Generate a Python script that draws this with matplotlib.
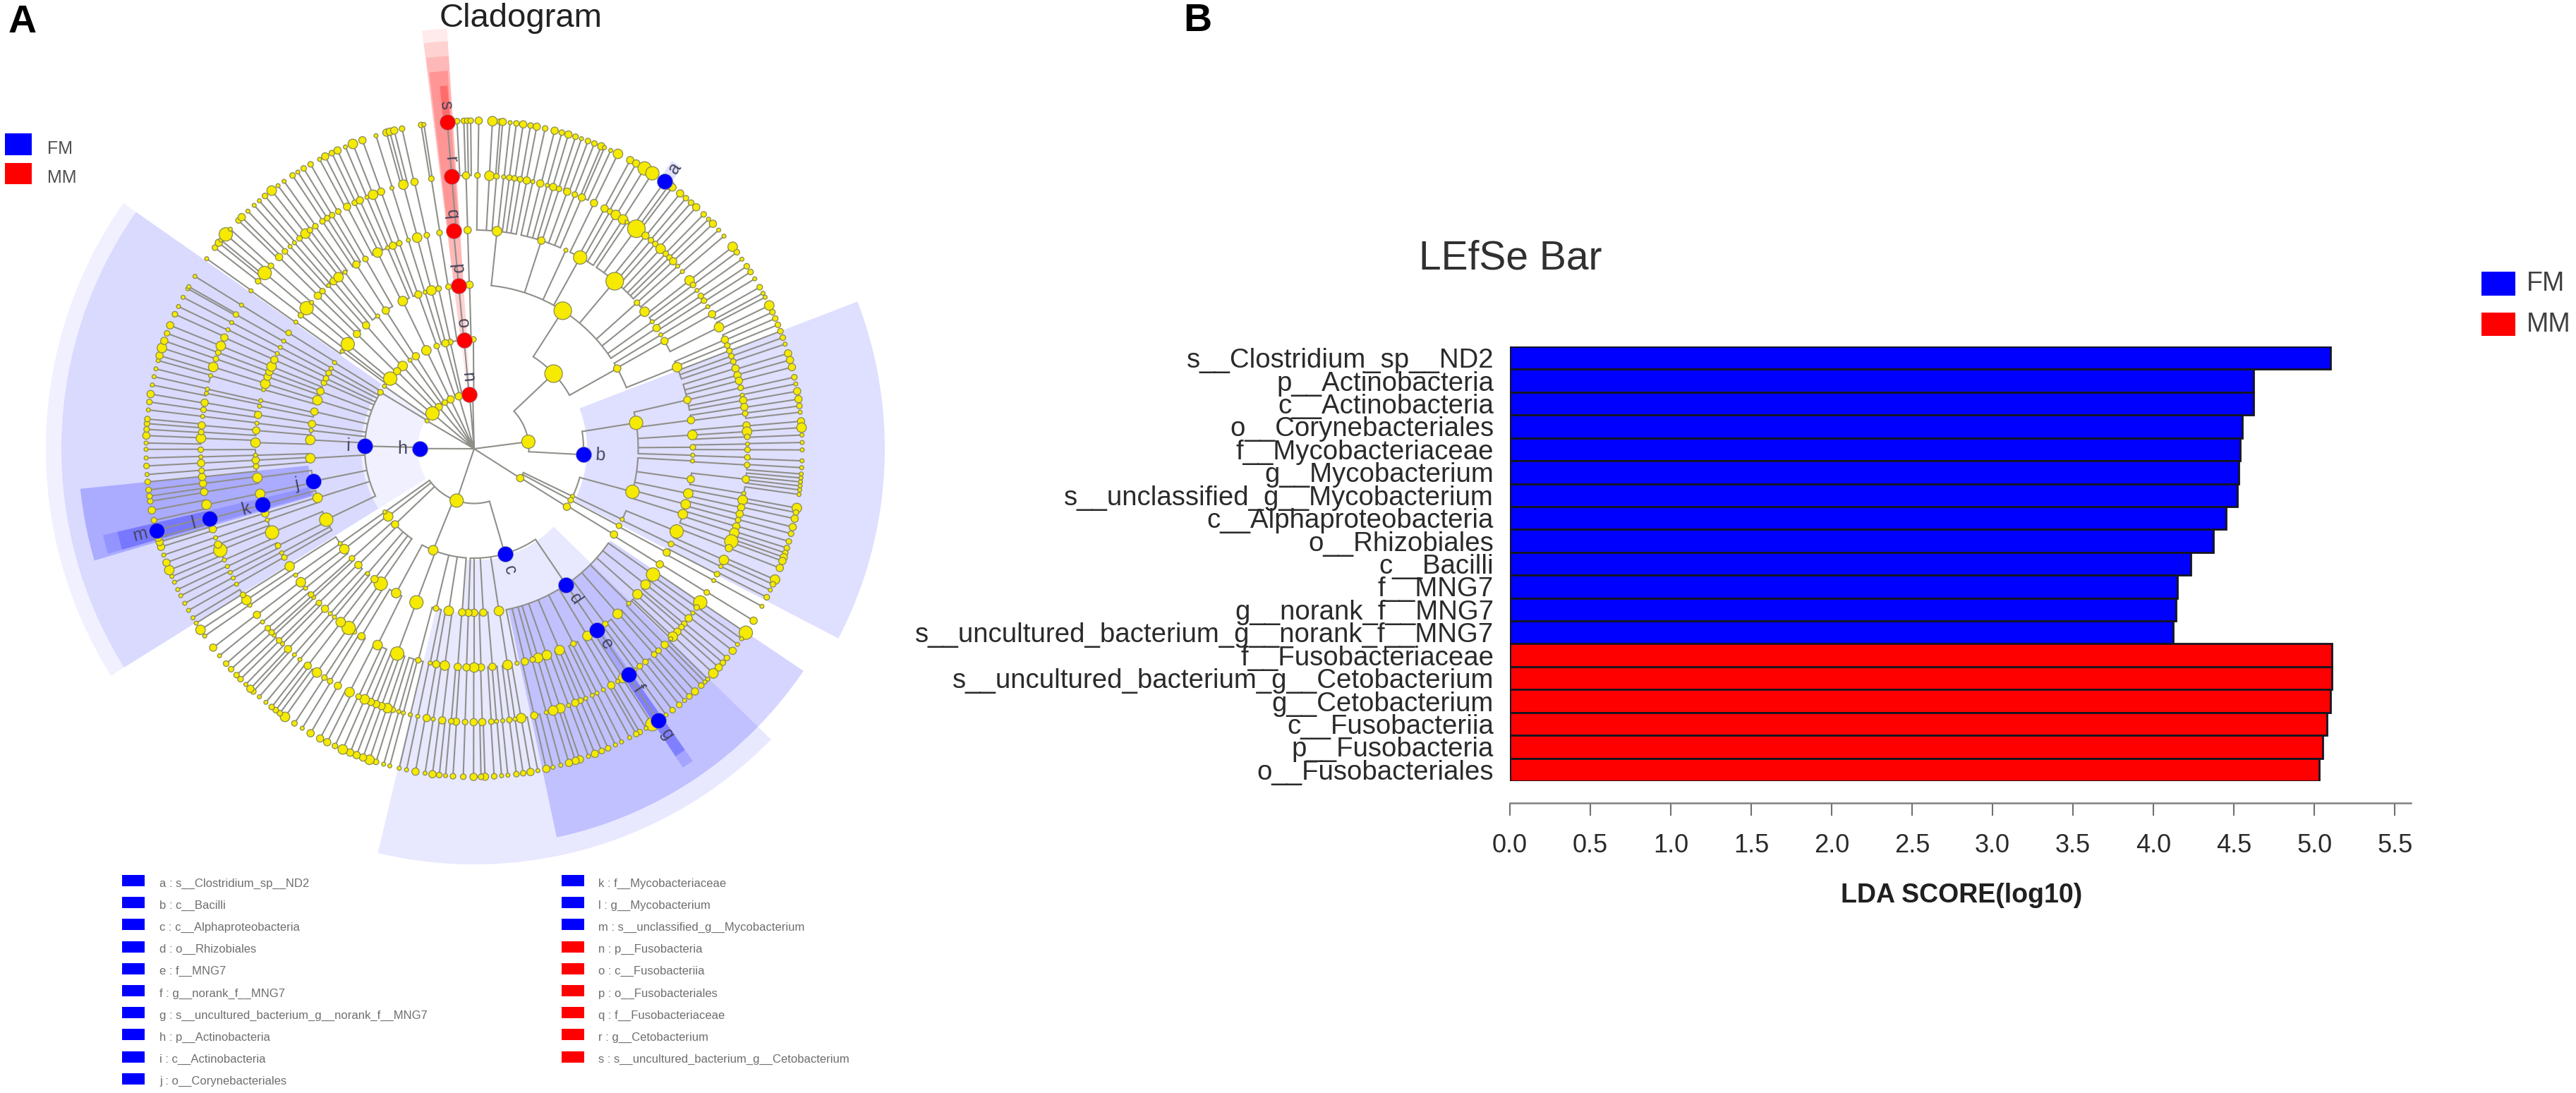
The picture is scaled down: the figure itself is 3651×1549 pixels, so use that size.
import numpy as np
import matplotlib
matplotlib.use("Agg")
import matplotlib.pyplot as plt
from matplotlib.patches import Rectangle

plt.rcParams['font.family'] = ['Liberation Sans', 'DejaVu Sans']

# ---------- LEfSe bar data ----------
BAR_LABELS_FM = ["s__Clostridium_sp__ND2", "p__Actinobacteria", "c__Actinobacteria",
                 "o__Corynebacteriales", "f__Mycobacteriaceae", "g__Mycobacterium",
                 "s__unclassified_g__Mycobacterium", "c__Alphaproteobacteria", "o__Rhizobiales",
                 "c__Bacilli", "f__MNG7", "g__norank_f__MNG7",
                 "s__uncultured_bacterium_g__norank_f__MNG7"]
BAR_VALUES_FM = [5.10, 4.62, 4.62, 4.55, 4.54, 4.53, 4.52, 4.45, 4.37, 4.23, 4.15, 4.14, 4.12]
BAR_LABELS_MM = ["f__Fusobacteriaceae", "s__uncultured_bacterium_g__Cetobacterium",
                 "g__Cetobacterium", "c__Fusobacteriia", "p__Fusobacteria", "o__Fusobacteriales"]
BAR_VALUES_MM = [5.11, 5.11, 5.10, 5.08, 5.05, 5.03]
X_TICKS = [0.0, 0.5, 1.0, 1.5, 2.0, 2.5, 3.0, 3.5, 4.0, 4.5, 5.0, 5.5]

# ---------- Cladogram legend ----------
CLADE_LEGEND_FM = ["a : s__Clostridium_sp__ND2", "b : c__Bacilli", "c : c__Alphaproteobacteria",
                   "d : o__Rhizobiales", "e : f__MNG7", "f : g__norank_f__MNG7",
                   "g : s__uncultured_bacterium_g__norank_f__MNG7", "h : p__Actinobacteria",
                   "i : c__Actinobacteria", "j : o__Corynebacteriales", "k : f__Mycobacteriaceae",
                   "l : g__Mycobacterium", "m : s__unclassified_g__Mycobacterium"]
CLADE_LEGEND_MM = ["n : p__Fusobacteria", "o : c__Fusobacteriia", "p : o__Fusobacteriales",
                   "q : f__Fusobacteriaceae", "r : g__Cetobacterium",
                   "s : s__uncultured_bacterium_g__Cetobacterium"]

# ---------- Cladogram nodes: (angle in degrees, size class), one list per taxonomic ring ----------
RING1 = [(91.5,1),(106.3,3),(115.5,3),(122.4,2),(130.3,3),(139.7,5),(149.4,1),(7.4,5),(-32.5,3),(-108.7,5)]
RING2 = [(90.4,2),(102.6,2),(105.2,3),(110,2),(115.9,4),(122.2,3),(125.9,1),(130.8,4),(134.8,3),(140.1,5),
         (145.1,1),(148.9,2),(43.4,6),(-25.8,1),(-28,2),(-32,3),(-112,4),(-136.3,3),(-141.8,4),(-144.7,1)]
RING3 = [(91.6,3),(57.3,6),(29.3,3),(9.1,5),(-15.2,5),(-25.5,1),(-28,2),(-31.5,3),(-81.3,4),(-86.8,3),(-90,3),
         (-92,3),(-94.2,3),(-98.9,4),(-103.4,2),(-110.6,5),(-118.4,4),(-124.7,5),(-127.4,3),(-130.5,1),(-134.9,3),
         (-138.1,2),(-142.3,4),(-144.7,1),(-154.4,5),(-162.6,4),(-176.7,4),(176.9,4),(173.6,1),(171.3,3),(166.9,3),
         (162.8,4),(159.5,3),(156.3,2),(154.6,2),(152.5,2),(150.7,1),(148.3,1),(143.5,1),(142.3,1),(140.4,5),
         (135.6,3),(131.2,3),(126,1),(122.6,3),(115.8,4),(109.9,3),(107.4,1),(105.1,4),(102.5,2),(99,2)]
RING4 = [(91.7,3),(84,4),(72.1,3),(65.2,1),(61,5),(50,6),(41.9,2),(38.8,4),(35.5,1),(33.5,3),(31.4,1),(29.5,3),
         (21.9,4),(12.9,3),(7.5,3),(3.6,4),(0.4,2),(-1.7,1),(-3.2,1),(-8,3),(-11.8,4),(-14.7,4),(-17.4,4),(-22.2,5),
         (-25.8,2),(-28.3,3),(-31.9,3),(-35.1,5),(-38.4,4),(-41.7,4),(-45,1),(-49,4),(-53.2,2),(-58.8,4),(-63,2),
         (-67,4),(-70.6,4),(-73,4),(-74.5,2),(-76.6,3),(-78.7,1),(-81.2,4),(-85.2,3),(-88.2,3),(-90,4),(-92,3),
         (-94.3,3),(-97.7,4),(-100,3),(-101.6,1),(-104.8,2),(-110.6,5),(-116.2,4),(-121,3),(-123.1,1),(-125,5),
         (-127.6,4),(-129.7,1),(-131.1,1),(-133,3),(-135.2,2),(-137.2,1),(-138.2,2),(-140.4,1),(-142.4,4),(-144.7,1),
         (-147.5,4),(-150.2,2),(-151.6,1),(-153.7,2),(-157.5,5),(-161,1),(-162.8,3),(-168.1,4),(-172.4,4),(-175.4,2),
         (-177,3),(-178.3,1),(178.4,4),(175.2,3),(173.3,1),(171.1,3),(168.8,1),(167.3,1),(164.3,1),(162.7,4),(160.8,3),
         (159.4,3),(157.9,4),(156,3),(154.2,1),(152.4,1),(150.5,1),(148,2),(144.6,1),(142.4,2),(140,5),(138,1),
         (135.6,3),(133.9,2),(131.7,1),(130,3),(128.3,4),(126.2,1),(122.6,3),(119.8,2),(116.2,4),(113.3,1),(111.8,3),
         (110,2),(107.5,1),(105.1,4),(102.5,2),(99.1,2)]
RING5 = [(91.7,3),(89.3,2),(86.8,4),(85.3,2),(83.8,1),(82.6,2),(81.5,2),(80.3,2),(78.9,3),(77.6,1),(76,3),(74.5,1),
         (73.2,3),(71.9,2),(70.1,3),(68.4,2),(66.8,3),(64,3),(61.5,3),(60.2,2),(58.8,4),(57,4),(56,1),(53.6,6),(51.2,3),
         (49.7,2),(48.5,2),(47,4),(45.5,2),(44.4,2),(43.3,3),(41.9,1),(40.4,1),(38,4),(36.8,2),(35.4,1),(34,2),(32.8,2),
         (31.3,1),(29.5,3),(26.4,4),(23.5,3),(22.2,2),(21,2),(19.8,2),(18.6,2),(17.1,3),(15.6,3),(14.4,3),(12.9,2),
         (11.3,1),(10.2,3),(8.8,3),(7.4,2),(4.9,3),(3.6,4),(2.5,2),(1,1),(-0.2,2),(-1.8,2),(-3.4,2),(-6.4,3),(-9.4,1),
         (-10.8,4),(-12.4,3),(-13.8,3),(-15.1,2),(-16.5,3),(-17.9,4),(-19.8,5),(-21.3,3),(-24,4),(-25.5,1),(-27.3,2),
         (-28.8,1),(-31.7,2),(-34.2,5),(-35.5,2),(-36.9,1),(-38.3,3),(-39.8,2),(-40.7,2),(-42,3),(-43.4,4),(-44,1),
         (-45.8,3),(-47.6,2),(-48.8,2),(-51.2,2),(-52.7,2),(-54,1),(-57,4),(-58.3,1),(-59.9,3),(-61.8,1),(-63.3,1),
         (-64.4,1),(-65.9,1),(-67.1,2),(-68.3,3),(-69.8,1),(-71.6,4),(-73.2,4),(-74.7,1),(-77.3,3),(-80.1,4),(-81.4,1),
         (-82.6,2),(-84,1),(-85.3,1),(-86.4,2),(-88.3,3),(-90.1,3),(-91.9,2),(-93.8,3),(-94.8,2),(-96.7,3),(-98.6,1),
         (-100,3),(-101.9,1),(-103.5,1),(-105,1),(-106,1),(-107.3,2),(-108.5,4),(-109.8,3),(-111,3),(-112.2,3),(-113.6,4),
         (-115,2),(-117.1,4),(-119.9,3),(-121.8,2),(-123.2,2),(-125.1,4),(-127.5,3),(-129.6,1),(-131.1,1),(-132.9,3),
         (-134.5,1),(-135.5,2),(-137,1),(-137.8,2),(-139,2),(-140.7,1),(-142.6,3),(-145.1,1),(-146.4,4),(-147.7,2),
         (-150.3,1),(-151.8,1),(-153.1,1),(-154.5,1),(-156,1),(-158.2,5),(-159.5,3),(-161,1),(-162.9,3),(-168.2,4),
         (-170.9,3),(-172.7,3),(-174.1,3),(-175.4,2),(-177,3),(-178.3,1),(-179.8,2),(177.8,4),(176.5,2),(175.1,3),
         (173.2,1),(171.8,2),(170.3,3),(168.3,1),(167.4,1),(164.5,1),(162.6,4),(160.8,2),(159.4,2),(157.9,4),(156,3),
         (154.2,1),(152.5,1),(150.6,2),(148.3,1),(144.7,1),(142.2,2),(140,5),(138,2),(135.5,3),(133.8,2),(132.3,1),
         (131.1,1),(129.7,2),(128.1,4),(126.9,2),(125.5,2),(123.7,2),(122.5,2),(121.3,2),(119.8,2),(117.7,3),(115.9,2),
         (114.7,3),(113.1,1),(111.7,4),(109.9,3),(107.5,1),(105,4),(102.6,3),(99,2)]
RING6 = [(93,2),(91.8,2),(91.2,2),(90.6,2),(89.2,3),(86.8,4),(85.5,2),(85,3),(83.7,1),(82.6,2),(81.4,3),(80.1,2),(79,3),
         (77.5,2),(75.8,3),(74.5,2),(73.3,3),(72,2),(70.9,1),(69.7,2),(68.5,2),(67.2,3),(66.6,1),(65.4,1),(64,4),(61.6,3),
         (60.4,3),(58.7,5),(57.1,5),(53.5,4),(52.8,3),(51.1,3),(49.8,2),(48.6,2),(47.4,3),(45.6,2),(44.4,1),(43.3,3),
         (41.8,1),(40.4,1),(38,4),(36.8,2),(35.3,1),(33.8,2),(32.6,2),(31.2,1),(29.5,2),(28.3,1),(27.5,1),(25.9,4),
         (24.6,2),(23.4,2),(22.2,2),(21,2),(19.8,2),(18.6,1),(16.9,3),(15.7,3),(14.4,3),(12.6,2),(11.4,1),(10.1,3),(8.7,3),
         (7.5,2),(6.4,1),(4.8,3),(3.7,4),(2.4,1),(1.1,1),(-0.2,1),(-2.1,1),(-3.3,1),(-4.4,1),(-5.1,1),(-5.8,1),(-6.5,1),
         (-7.2,1),(-8,1),(-10.4,4),(-11.2,2),(-12.3,3),(-13.8,3),(-15,2),(-16.4,2),(-17.6,2),(-18.5,2),(-19.3,3),(-20,3),
         (-21.3,3),(-23.5,4),(-24.4,2),(-25.5,1),(-26.9,2),(-28.7,1),(-31.6,3),(-34.1,5),(-35.4,1),(-36.6,1),(-38,3),
         (-39.6,2),(-40.7,2),(-41.8,3),(-43.2,4),(-44.6,1),(-45.3,1),(-46.2,2),(-47.7,3),(-49,2),(-50.1,1),(-51.3,2),
         (-52.8,2),(-54.2,1),(-57.1,5),(-58.4,1),(-59.7,2),(-60.4,2),(-61.7,1),(-63.3,1),(-64.5,1),(-65.9,2),(-67.1,2),
         (-68.4,3),(-69.6,1),(-71.2,3),(-72,3),(-73.2,3),(-74.7,1),(-76.1,1),(-77.3,3),(-78.8,1),(-80.1,3),(-81.4,2),
         (-82.6,2),(-84.1,1),(-85.2,1),(-86.5,2),(-88.1,3),(-88.8,2),(-90.1,3),(-91.9,2),(-93.7,2),(-95,1),(-96.1,2),
         (-97.3,3),(-98.6,1),(-100.3,3),(-101.9,1),(-103.2,1),(-104.9,1),(-106,1),(-107.4,2),(-108.6,4),(-109.8,3),(-111,3),
         (-112.2,3),(-113.6,4),(-115.1,2),(-116.6,3),(-118,3),(-119.9,3),(-121.6,1),(-123.2,2),(-125.2,4),(-126.3,2),
         (-127.2,2),(-128.1,2),(-129.4,1),(-130.9,1),(-132.3,2),(-133,3),(-134.1,1),(-135.4,2),(-136.4,2),(-137.8,2),
         (-139.1,2),(-140.9,1),(-142.7,3),(-145.2,1),(-146.5,4),(-147.9,1),(-149,1),(-150.5,1),(-151.9,1),(-153.4,1),
         (-154.6,1),(-156,1),(-157.1,1),(-158.3,4),(-159.7,3),(-161.1,1),(-162.6,3),(-163.5,3),(-164.3,3),(-167.4,2),
         (-169.2,3),(-170.8,2),(-171.7,2),(-172.8,2),(-174.2,2),(-175.5,1),(-177,2),(-178.4,1),(-179.9,1),(179,1),(177.7,3),
         (176.6,2),(175.6,2),(174.8,2),(173.2,1),(171.8,2),(170.4,3),(168.8,1),(167.3,1),(165.9,1),(164.4,1),(163.5,3),
         (162.1,4),(160.8,3),(159.4,2),(157.9,3),(155.8,2),(154.3,1),(152.5,1),(150.8,1),(150.4,1),(148.3,1),(144.6,1),
         (142.2,2),(141.1,3),(140.5,1),(139.2,5),(138,1),(135.9,2),(135.1,3),(133.6,1),(132.1,1),(130.9,1),(129.6,2),
         (128.1,4),(126.7,1),(125.4,1),(123.6,2),(122.5,1),(121.3,2),(119.9,2),(118.1,1),(117,3),(115.7,2),(114.6,3),
         (113.1,1),(111.7,4),(109.9,3),(107.4,1),(105.5,3),(104.9,3),(104.1,3),(102.7,2),(99.3,2),(98.8,1)]

# biomarker clades: letter -> (ring, angle)
BLUE_CLADES = {"a":(6,54.5),"b":(2,-3.1),"c":(2,-73.7),"d":(3,-55.9),"e":(4,-55.9),"f":(5,-55.6),"g":(6,-55.9),
               "h":(1,179.8),"i":(2,178.6),"j":(3,-168.6),"k":(4,-165.2),"l":(5,-165.2),"m":(6,-165.6)}
RED_CLADES = {"n":(1,94.9),"o":(2,95.3),"p":(3,95.4),"q":(4,95.4),"r":(5,94.7),"s":(6,94.7)}

# clades whose subtree is wider than its nearest neighbours would suggest: (ring, angle) -> (from, to)
PARENT_SPANS = {(1,-108.7):(-145,-73),(2,178.6):(148,-153.5),(3,57.3):(32.5,85),(3,-55.9):(-79,-34),
                (4,84):(78,90),(4,72.1):(66,78),(4,61):(57,66),(4,50):(42,57)}

# background shades: (colour, from deg, to deg, inner px, outer px, alpha)
SHADES = [("b",-27.5,21,160,582,.125),
          ("b",145,212,80,607,.06),("b",145,212,160,585,.09),
          ("b",-103.4,-44.4,233,589,.09),("b",-94,-44.4,158,233,.09),
          ("b",-78,-34,233,563,.165),
          ("b",-174.2,-163.6,236,561,.21),("b",-166.9,-164,240,540,.13),("b",-166.9,-164,390,519,.19),
          ("b",-56.8,-55,310,540,.14),("b",-56.8,-55,388,521,.22),
          ("b",53.5,55.5,468,495,.12),
          ("r",93.7,97.1,78,597,.08),("r",93.7,97.1,155,579,.107),("r",93.7,97,233,558,.12),
          ("r",94,96.8,310,537,.19),("r",94.2,95.4,465,516,.27)]

W, H = 3651, 1549
BLUE, RED, YELLOW = "#0000FF", "#FF0000", "#F5EA00"
GREY_LINE, NODE_EDGE = "#8F8F8A", "#8A8A50"
NODE_RADIUS = {1:2.9, 2:4.0, 3:5.2, 4:6.8, 5:9.5, 6:12.5}
PX_PER_RING = 77.5
CX, CY = 672, 636
R_LIM = 8

fig = plt.figure(figsize=(W/100, H/100), dpi=100, facecolor="white")

def axes_px(x0, y0, x1, y1, **kw):
    return fig.add_axes([x0/W, 1-y1/H, (x1-x0)/W, (y1-y0)/H], **kw)

# ========== Panel A: cladogram ==========
Rpx = R_LIM*PX_PER_RING
pax = axes_px(CX-Rpx, CY-Rpx, CX+Rpx, CY+Rpx, projection="polar")
pax.set_rlim(0, R_LIM)
pax.axis("off")
pax.patch.set_alpha(0)

for col, a0, a1, r0, r1, al in SHADES:
    pax.bar(np.radians((a0+a1)/2), (r1-r0)/PX_PER_RING, width=np.radians(a1-a0), bottom=r0/PX_PER_RING,
            color=BLUE if col == "b" else RED, alpha=al, linewidth=0, zorder=1)

rings = {1:list(RING1), 2:list(RING2), 3:list(RING3), 4:list(RING4), 5:list(RING5), 6:list(RING6)}
for letter, (ring, ang) in {**BLUE_CLADES, **RED_CLADES}.items():
    rings[ring].append((ang, 7))

def signed(d):
    return (d+180) % 360 - 180

def parent_of(ring, ang):
    for (r, p), (a0, a1) in PARENT_SPANS.items():
        if r == ring-1 and (ang-a0) % 360 <= (a1-a0) % 360:
            return p
    return min((n[0] for n in rings[ring-1]), key=lambda p: abs(signed(ang-p)))

radial_t, radial_r = [], []
children = {}
for ring in range(1, 7):
    for ang, _ in rings[ring]:
        t = np.radians(ang)
        if ring == 1:
            inner = 0
        else:
            inner = ring-1
            p = parent_of(ring, ang)
            children.setdefault((ring-1, p), []).append(signed(ang-p))
        radial_t += [t, t, np.nan]
        radial_r += [ring, inner, np.nan]
pax.plot(radial_t, radial_r, color=GREY_LINE, lw=1.5, zorder=2, solid_capstyle="butt")
for (ring, p), ds in children.items():
    ts = np.radians(np.linspace(p+min(0, min(ds)), p+max(0, max(ds)), 60))
    pax.plot(ts, np.full_like(ts, ring), color=GREY_LINE, lw=1.5, zorder=2)

for ring in range(1, 7):
    nodes = [n for n in rings[ring] if n[1] != 7]
    pax.scatter(np.radians([n[0] for n in nodes]), [ring]*len(nodes),
                s=[(2*NODE_RADIUS[n[1]]*0.72)**2 for n in nodes],
                color=YELLOW, edgecolor=NODE_EDGE, linewidth=0.9, zorder=3)
for clades, col in ((BLUE_CLADES, BLUE), (RED_CLADES, RED)):
    pax.scatter(np.radians([v[1] for v in clades.values()]), [v[0] for v in clades.values()],
                s=(2*11*0.72)**2, color=col, edgecolor="#9090A0", linewidth=0.5, zorder=4)
    for letter, (ring, ang) in clades.items():
        rot = ang if abs(ang) < 90 else signed(ang+180)
        pax.text(np.radians(ang), ring+24/PX_PER_RING, letter, rotation=rot, rotation_mode="anchor",
                 ha="center", va="center", fontsize=18, color="#45455A", zorder=5)

# ========== Overlay: titles and legends ==========
ov = axes_px(0, 0, W, H)
ov.set_xlim(0, W); ov.set_ylim(H, 0); ov.axis("off"); ov.patch.set_alpha(0)

ov.text(12, 32, "A", fontsize=40, fontweight="bold", va="center", color="black")
ov.text(1677, 30, "B", fontsize=40, fontweight="bold", va="center", color="black")
ov.text(738, 26, "Cladogram", fontsize=34, ha="center", va="center", color="#222222")

for y0, y1, col, lab, ty in ((189, 220, BLUE, "FM", 211), (231, 261, RED, "MM", 252)):
    ov.add_patch(Rectangle((7, y0), 38, y1-y0, color=col, lw=0))
    ov.text(67, ty, lab, fontsize=18, va="center", color="#505050")

for i, lab in enumerate(CLADE_LEGEND_FM[:10]):
    y = 1248+31.2*i
    ov.add_patch(Rectangle((173, y-8), 32, 16, color=BLUE, lw=0))
    ov.text(226, y+4, lab, fontsize=12, va="center", color="#6E6E6E")
for i, lab in enumerate(CLADE_LEGEND_FM[10:]+CLADE_LEGEND_MM):
    y = 1248+31.2*i
    ov.add_patch(Rectangle((796, y-8), 32, 16, color=BLUE if i < 3 else RED, lw=0))
    ov.text(848, y+4, lab, fontsize=12, va="center", color="#6E6E6E")

ov.text(2141, 366, "LEfSe Bar", fontsize=41, ha="center", va="center", color="#303030")
for y0, y1, col, lab in ((385, 419, BLUE, "FM"), (443, 476, RED, "MM")):
    ov.add_patch(Rectangle((3517, y0), 48, y1-y0, color=col, lw=0))
    ov.text(3581, (y0+y1)/2, lab, fontsize=27, va="center", color="#404040")
ov.text(2780, 1269, "LDA SCORE(log10)", fontsize=27, fontweight="bold", ha="center", va="center", color="#202020")

# ========== Panel B: bars ==========
labels = BAR_LABELS_FM+BAR_LABELS_MM
values = BAR_VALUES_FM+BAR_VALUES_MM
colors = [BLUE]*len(BAR_VALUES_FM)+[RED]*len(BAR_VALUES_MM)
bx = axes_px(2140, 491, 3417, 1107)
ypos = np.arange(len(values))
bx.barh(ypos, values, height=1, color=colors, edgecolor="#151520", linewidth=2.0)
bx.set_xlim(0, 5.6)
bx.set_ylim(len(values)-0.5, -0.5)
bx.set_yticks(ypos, labels)
bx.set_xticks(X_TICKS, [f"{v:.1f}" for v in X_TICKS])
bx.tick_params(axis="y", length=0, pad=16.5, labelsize=27.6, labelcolor="#2A2A2A")
bx.tick_params(axis="x", length=13, width=1.5, color="#707070", pad=18, labelsize=26, labelcolor="#2A2A2A")
for s in ("top", "left", "right"):
    bx.spines[s].set_visible(False)
bx.spines["bottom"].set_position(("outward", 22.3))
bx.spines["bottom"].set_color("#808080")
bx.spines["bottom"].set_linewidth(1.8)
bx.patch.set_alpha(0)

fig.savefig("out.png", dpi=100, facecolor="white")
